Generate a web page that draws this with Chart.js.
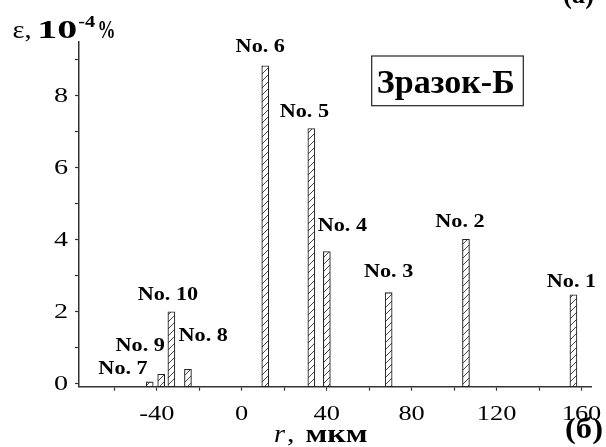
<!DOCTYPE html>
<html>
<head>
<meta charset="utf-8">
<script src="https://cdn.jsdelivr.net/npm/chart.js@4.4.1/dist/chart.umd.min.js"></script>
<style>
  html, body { margin: 0; padding: 0; background: #fff; }
</style>
</head>
<body>
<canvas id="c" width="606" height="447"></canvas>
<script>
// sample names, radius (мкм) and strain (10^-4 %)
const samples = ["No. 1", "No. 2", "No. 3", "No. 4", "No. 5", "No. 6", "No. 7", "No. 8", "No. 9", "No. 10"];
const radius = [156.2, 105.6, 69.2, 40.1, 32.8, 11.1, -43.3, -25.3, -37.9, -33.1];
const strain = [2.47, 4.01, 2.53, 3.67, 7.09, 8.83, 0.05, 0.40, 0.26, 2.00];

const xTickLabels = [-40, 0, 40, 80, 120, 160];
const yTickLabels = [0, 2, 4, 6, 8];

// where each "No." label sits relative to the top of its bar (px)
const labelShift = [
    [-2, -13], [-6, -17.6], [0, -20.7], [15.5, -25.7], [-7, -16.6],
    [-5, -19], [-26.7, -13], [15.3, -32.6], [-21, -28.3], [-3.5, -16.7]
];

const Y_MIN = -0.083;
const INK = "#222";

// diagonal hatch for the bars
function makeHatch() {
    const p = document.createElement("canvas");
    p.width = 7; p.height = 7;
    const g = p.getContext("2d");
    g.fillStyle = "#fff";
    g.fillRect(0, 0, 7, 7);
    g.strokeStyle = "#333";
    g.lineWidth = 0.9;
    g.beginPath();
    g.moveTo(-1, 8); g.lineTo(8, -1);
    g.moveTo(-1, 1); g.lineTo(1, -1);
    g.moveTo(6, 8); g.lineTo(8, 6);
    g.stroke();
    return g.createPattern(p, "repeat");
}

// text helper: draws with an optional horizontal stretch, or fitted to a width
function txt(ctx, s, x, y, font, opts) {
    opts = opts || {};
    ctx.save();
    ctx.font = font;
    ctx.fillStyle = opts.color || "#000";
    ctx.textBaseline = opts.baseline || "alphabetic";
    const w = ctx.measureText(s).width;
    let sx = opts.sx || 1;
    if (opts.width) sx = opts.width / w;
    let x0 = x;
    if (opts.align === "center") x0 = x - w * sx / 2;
    if (opts.align === "right") x0 = x - w * sx;
    ctx.translate(x0, y);
    ctx.scale(sx, 1);
    ctx.textAlign = "left";
    ctx.fillText(s, 0, 0);
    ctx.restore();
    return w * sx;
}

const SERIF = "\"Liberation Serif\", serif";
const near = (list, v) => list.find(a => Math.abs(a - v) < 1e-6);

const decorPlugin = {
    id: "decor",
    afterDraw(chart) {
        const ctx = chart.ctx;
        const xs = chart.scales.x, ys = chart.scales.y;

        // tick labels
        xs.ticks.forEach(t => {
            const v = near(xTickLabels, t.value);
            if (v === undefined) return;
            txt(ctx, String(v), xs.getPixelForValue(v), 420, "22px " + SERIF, { align: "center", sx: 1.2 });
        });
        ys.ticks.forEach(t => {
            const v = near(yTickLabels, t.value);
            if (v === undefined) return;
            txt(ctx, String(v), 68, ys.getPixelForValue(v) + 0.5, "22px " + SERIF, { align: "right", sx: 1.28, baseline: "middle" });
        });

        // bar labels
        const meta = chart.getDatasetMeta(0);
        meta.data.forEach((bar, i) => {
            const [dx, dy] = labelShift[i];
            txt(ctx, samples[i], bar.x + dx, bar.y + dy, "bold 18.5px " + SERIF, { align: "center", sx: 1.2, baseline: "middle" });
        });

        // y axis title: ε, 10^-4 %
        txt(ctx, "ε,", 12.5, 38.3, "25px " + SERIF, { width: 19 });
        txt(ctx, "10", 37.3, 38.3, "bold 26px " + SERIF, { width: 40 });
        txt(ctx, "-4", 78.3, 26.7, "bold 16px " + SERIF, { width: 17 });
        txt(ctx, "%", 97.5, 38.3, "bold 25px " + SERIF, { width: 18 });

        // x axis title: r, мкм
        txt(ctx, "r", 274, 442, "italic 25px " + SERIF, { width: 11 });
        txt(ctx, ",", 287, 442, "25px " + SERIF, { sx: 1.2 });
        txt(ctx, "мкм", 305.5, 442, "bold 25px " + SERIF, { width: 62 });

        // panel marks
        txt(ctx, "(б)", 565, 438, "bold 30px " + SERIF, { width: 38 });
        txt(ctx, "(а)", 563, 3, "bold 30px " + SERIF, { width: 31 });

        // sample name box
        ctx.save();
        ctx.strokeStyle = INK;
        ctx.lineWidth = 1.2;
        ctx.strokeRect(371.7, 56, 151.6, 49.7);
        ctx.restore();
        txt(ctx, "Зразок-Б", 376.7, 93.3, "bold 34px " + SERIF, { width: 138 });
    }
};

const onGrid = step => scale => {
    scale.ticks = scale.ticks
        .filter(t => Math.abs(t.value / step - Math.round(t.value / step)) < 1e-6)
        .map(t => ({ value: Math.round(t.value / step) * step }));
};

const axisStyle = {
    grid: { display: true, drawOnChartArea: false, drawTicks: true, tickLength: 4, tickWidth: 1.2, color: "#333" },
    border: { display: true, color: "#333", width: 1.5 }
};

new Chart(document.getElementById("c"), {
    type: "bar",
    data: {
        datasets: [{
            label: "ε",
            data: radius.map((r, i) => ({ x: r, y: strain[i] })),
            backgroundColor: makeHatch(),
            borderColor: INK,
            borderWidth: 1.1,
            borderSkipped: false,
            barThickness: 7,
            base: Y_MIN
        }]
    },
    options: {
        responsive: false,
        animation: false,
        layout: { padding: { top: 41.7, right: 14.3, left: 0, bottom: 0 } },
        plugins: { legend: { display: false }, tooltip: { enabled: false } },
        scales: {
            x: {
                type: "linear",
                min: -76.6,
                max: 164.8,
                offset: false,
                ...axisStyle,
                grid: { ...axisStyle.grid, offset: false },
                ticks: { display: false, stepSize: 20, includeBounds: false },
                afterBuildTicks: onGrid(20),
                afterFit(s) { s.height = 60.3; }
            },
            y: {
                type: "linear",
                min: Y_MIN,
                max: 9.5,
                beginAtZero: false,
                ...axisStyle,
                ticks: { display: false, stepSize: 1, includeBounds: false },
                afterBuildTicks: onGrid(1),
                afterFit(s) { s.width = 79; }
            }
        }
    },
    plugins: [decorPlugin]
});
</script>
</body>
</html>
